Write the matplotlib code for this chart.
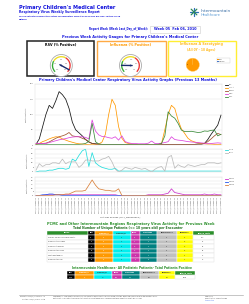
import numpy as np
import matplotlib
matplotlib.use("Agg")
import matplotlib.pyplot as plt
from matplotlib.patches import Rectangle, Wedge, Circle

# ---------------- data ----------------
week_labels = [
    "2009_01 Week 02", "2009_01 Week 03", "2009_01 Week 04", "2009_01 Week 05",
    "2009_02 Week 06", "2009_02 Week 07", "2009_02 Week 08", "2009_02 Week 09",
    "2009_03 Week 10", "2009_03 Week 11", "2009_03 Week 12", "2009_03 Week 13",
    "2009_04 Week 14", "2009_04 Week 15", "2009_04 Week 16", "2009_04 Week 17",
    "2009_05 Week 18", "2009_05 Week 19", "2009_05 Week 20", "2009_05 Week 21", "2009_05 Week 22",
    "2009_06 Week 23", "2009_06 Week 24", "2009_06 Week 25", "2009_06 Week 26",
    "2009_07 Week 27", "2009_07 Week 28", "2009_07 Week 29", "2009_07 Week 30",
    "2009_08 Week 31", "2009_08 Week 32", "2009_08 Week 33", "2009_08 Week 34", "2009_08 Week 35",
    "2009_09 Week 36", "2009_09 Week 37", "2009_09 Week 38", "2009_09 Week 39",
    "2009_10 Week 40", "2009_10 Week 41", "2009_10 Week 42", "2009_10 Week 43", "2009_10 Week 44",
    "2009_11 Week 45", "2009_11 Week 46", "2009_11 Week 47", "2009_11 Week 48",
    "2009_12 Week 49", "2009_12 Week 50", "2009_12 Week 51", "2009_12 Week 52",
    "2010_01 Week 00", "2010_01 Week 01", "2010_01 Week 02", "2010_01 Week 03", "2010_01 Week 04",
    "2010_02 Week 05",
]

rsv = [2, 20, 60, 100, 130, 120, 145, 175, 165, 150, 120, 75, 50, 40, 30, 18, 10, 5,
       4, 3, 2, 2, 1, 1, 2, 1, 1, 1, 1, 1, 1, 1, 1, 1, 1, 1, 1, 1, 1, 1, 2, 2, 2, 2,
       2, 2, 2, 2, 2, 3, 3, 5, 18, 35, 50, 65, 98]
infl_a = [1, 5, 11, 15, 20, 24, 27, 26, 20, 16, 12, 9, 6, 4, 3, 2, 1, 1, 1, 3, 10,
          35, 100, 150, 130, 60, 22, 8, 5, 3, 2, 1, 1, 1, 1, 1, 1, 2, 5, 50, 100, 130,
          120, 82, 53, 38, 22, 14, 10, 7, 5, 4, 3, 3, 2, 2, 2]
adeno = [5, 5, 5, 6, 10, 16, 22, 27, 30, 34, 41, 30, 28, 27, 22, 18, 10, 5, 3, 2, 2,
         2, 2, 2, 2, 2, 2, 2, 1, 1, 1, 1, 1, 1, 1, 1, 1, 1, 1, 1, 1, 2, 2, 2, 2, 2, 2,
         2, 2, 3, 3, 5, 11, 20, 30, 38, 34]
hmpv = [5, 5, 5, 5, 8, 11, 14, 17, 19, 21, 24, 26, 27, 27, 27, 25, 20, 82, 46, 33,
        28, 27, 24, 22, 27, 16, 30, 11, 7, 5, 5, 4, 4, 4, 6, 13, 5, 5, 6, 8, 11, 27,
        18, 16, 15, 13, 11, 10, 9, 8, 7, 6, 5, 5, 6, 7, 6]
h1n1 = [1, 1, 1, 1, 2, 2, 2, 2, 2, 2, 2, 2, 2, 2, 3, 5, 12, 71, 11, 3, 2, 2, 2, 2, 2,
        2, 2, 2, 1, 1, 1, 1, 1, 1, 1, 1, 1, 2, 5, 30, 109, 95, 88, 71, 49, 44, 44, 45,
        43, 41, 42, 46, 45, 48, 49, 30, 35]

infl_b = [0, 1, 1, 1, 2, 2, 3, 4, 4, 3, 4, 14, 12, 18, 23, 25, 6, 21, 10, 7, 5, 4,
          3, 3, 4, 1, 1, 1, 1, 1, 1, 1, 1, 1, 1, 1, 1, 1, 1, 1, 1, 1, 1, 1, 1, 1, 1,
          1, 1, 1, 1, 1, 1, 1, 1, 1, 1]
rhino = [2, 9, 6, 8, 8, 10, 10, 9, 14, 9, 11, 11, 11, 5, 8, 13, 13, 12, 12, 12, 14,
         15, 17, 11, 3, 0, 2, 5, 4, 3, 5, 4, 3, 4, 2, 0, 3, 5, 6, 1, 16, 18, 4, 8, 6,
         5, 8, 7, 6, 7, 8, 8, 10, 10, 10, 9, 10]

para1 = [0, 0, 0, 1, 1, 1, 1, 1, 1, 1, 1, 1, 1, 1, 1, 1, 1, 1, 1, 1, 1, 1, 1, 1, 1,
         0, 0, 0, 0, 0, 0, 0, 0, 0, 1, 1, 1, 1, 1, 2, 3, 9, 4, 3, 2, 1, 1, 1, 1, 1,
         1, 2, 1, 1, 2, 1, 1]
para2 = [0, 0, 1, 1, 2, 2, 1, 1, 0, 0, 0, 0, 0, 0, 0, 0, 0, 0, 0, 0, 0, 0, 0, 0, 0,
         0, 0, 0, 0, 0, 0, 0, 0, 0, 0, 0, 0, 0, 0, 0, 0, 0, 0, 0, 0, 0, 0, 0, 0, 0,
         0, 0, 0, 0, 0, 0, 0]
para3 = [0, 0, 0, 0, 0, 0, 1, 1, 1, 2, 2, 4, 6, 6, 6, 7, 14, 21, 14, 9, 8, 7, 7, 6,
         6, 9, 0, 0, 0, 0, 0, 0, 0, 0, 0, 0, 0, 0, 0, 0, 0, 0, 0, 0, 0, 0, 0, 0, 0, 0,
         0, 0, 0, 0, 0, 0, 0]

gauge_rsv_pct = 47.0
gauge_rsv_max = 50.0
gauge_flu_pct = 1.7
gauge_flu_max = 10.0
serotype_labels = ["H1N1", "Seasonal"]
serotype_counts = [1, 0]

table_cols = ["Region", "RSV", "Influenza_A", "Influenza_B", "hMPV", "Adenovirus",
              "Parainfluenza", "Rhinovirus", "Total_W_Tests"]
regions = ["Primary Children's Medical Center", "Urban Central Region", "Urban North Region",
           "Urban South Region", "Southwest Region", "Urban South Rural"]
t_rsv = [97, 31, 35, 38, 17, 5]
t_flua = [0, 0, 0, 0, 0, 0]
t_flub = [0, 0, 0, 0, 0, 0]
t_hmpv = [25, 11, 20, 10, 4, 4]
t_adeno = [3, 1, 1, 1, 1, 0]
t_para = [3, 0, 0, 0, 0, 0]
t_rhino = [25, 13, 19, 13, 4, 1]
t_total = [137, 57, 93, 83, 42, 16]

all_cols = ["RSV", "Influenza_A", "Influenza_B", "hMPV", "Adenovirus", "Parainfluenza",
            "Rhinovirus", "Total_W_Tests"]
all_vals = [212, 2, 0, 33, 11, 18, 62, 563]

# ---------------- figure ----------------
W, H = 249, 304
fig = plt.figure(figsize=(W / 100, H / 100), dpi=100)
cv = fig.add_axes([0, 0, 1, 1])
cv.set_xlim(0, W)
cv.set_ylim(H, 0)
cv.axis("off")

BLUE = "#1414dc"
GREEN = "#2b8f2b"
ORANGE = "#ff9900"
CYAN = "#00eeee"
MAG = "#cc33aa"
TEAL = "#008080"
GRAY = "#c0c0c0"
YEL = "#ffff00"


def T(x, y, s, size, color="black", weight="normal", ha="left", va="center", **kw):
    cv.text(x, y, s, fontsize=size, color=color, fontweight=weight, ha=ha, va=va, **kw)


# header
T(19, 7, "Primary Children's Medical Center", 3.6, BLUE, "bold")
T(19, 12.3, "Respiratory Virus Weekly Surveillance Report", 2.25, BLUE, "bold")
T(19, 16.6, "Unique Patients by Encounter Positive for Respiratory Virus at PCMC by RSV EIA, DFA, Culture or PCR",
  1.3, BLUE, "bold")
T(19, 19.8, "Methods", 1.3, BLUE, "bold")

# logo
for ang in range(0, 360, 45):
    a = np.deg2rad(ang)
    cv.plot([194, 194 + 4 * np.cos(a)], [12, 12 - 4 * np.sin(a)],
            color="#2e8b57" if ang % 90 else "#2a6fb5", lw=0.9, solid_capstyle="round")
T(201, 10.5, "Intermountain", 3.1, "#3a6ea5")
T(201, 15.0, "Healthcare", 2.6, "#5b9bd5")

# report week
T(148, 29.3, "Report Week (Week Last_Day_of_Week):", 1.9, BLUE, "bold", ha="right")
cv.add_patch(Rectangle((150, 25.5), 50, 7.5, fc="white", ec="#cccccc", lw=0.4))
T(175, 29.3, "Week 05  Feb 06, 2010", 2.4, BLUE, "bold", ha="center")
T(130.5, 36.7, "Previous Week Activity Gauges for Primary Children's Medical Center", 2.55, BLUE, "bold",
  ha="center")

# gauge boxes
cv.add_patch(Rectangle((27, 41), 67, 35, fc="white", ec="#222222", lw=1.1))
cv.add_patch(Rectangle((97, 41), 68.5, 35, fc="white", ec="#ffaa44", lw=1.0))
cv.add_patch(Rectangle((167.5, 41), 68, 35, fc="white", ec="#ffee33", lw=1.0))
T(60.5, 45, "RSV (% Positive)", 2.4, "black", "bold", ha="center")
T(131, 45, "Influenza (% Positive)", 2.4, ORANGE, "bold", ha="center")
T(201.5, 44.5, "Influenza A Serotyping", 2.4, "#ffbb22", "bold", ha="center")
T(201.5, 49.7, "(All 0Y - 18 Ages)", 2.1, "#ffbb22", "bold", ha="center")


def gauge(cx, cy, r, val, vmax):
    cv.add_patch(Circle((cx, cy), r, fc="white", ec="#aaaaaa", lw=0.6))
    bands = [(150, 225, "#33aa33"), (60, 150, "#eedd22"), (-45, 60, "#ee3333")]
    for a1, a2, c in bands:
        cv.add_patch(Wedge((cx, cy), r * 0.86, -a2, -a1, width=r * 0.12, fc=c, ec="none"))
    for i in range(5):
        frac = i / 4
        a = np.deg2rad(225 - 270 * frac)
        lab = "%d%%" % round(vmax * frac)
        cv.text(cx + 0.55 * r * np.cos(a), cy - 0.55 * r * np.sin(a), lab, fontsize=0.9,
                color="#555555", ha="center", va="center")
    a = np.deg2rad(225 - 270 * min(val / vmax, 1))
    cv.plot([cx - 0.15 * r * np.cos(a), cx + 0.82 * r * np.cos(a)],
            [cy + 0.15 * r * np.sin(a), cy - 0.82 * r * np.sin(a)], color="#1a2a6c", lw=1.0,
            solid_capstyle="round")
    cv.add_patch(Circle((cx, cy), r * 0.08, fc="#1a2a6c", ec="none"))


gauge(61.3, 65.5, 11, gauge_rsv_pct, gauge_rsv_max)
gauge(130.5, 65.5, 11, gauge_flu_pct, gauge_flu_max)

# pie in pixel coordinates
pie_ax = fig.add_axes([184.5 / W, 1 - 73 / H, 16.5 / W, 16.5 / H])
pie_ax.pie(serotype_counts, colors=[ORANGE, "#4477cc"], startangle=90,
           wedgeprops=dict(ec="#ffcc66", lw=0.3))
pie_ax.set_aspect("equal")
pie_ax.text(-0.75, 0, str(serotype_counts[0]), fontsize=1.3, ha="center", va="center")
cv.add_patch(Rectangle((216.5, 58), 13.5, 5, fc="white", ec="#cccccc", lw=0.3))
cv.add_patch(Rectangle((217.3, 59.2), 1.3, 1, fc=ORANGE, ec="none"))
cv.add_patch(Rectangle((217.3, 61.2), 1.3, 1, fc="#4477cc", ec="none"))
T(219.3, 59.7, serotype_labels[0], 1.0, "#555555")
T(219.3, 61.7, serotype_labels[1], 1.0, "#555555")

# ---------------- line charts ----------------
T(128, 80.3, "Primary Children's Medical Center Respiratory Virus Activity Graphs (Previous 13 Months)",
  2.5, BLUE, "bold", ha="center")

x = np.arange(len(week_labels))


def chart(y0, y1, series, colors, names, ylim, ticks, legend_y, show_x=False):
    ax = fig.add_axes([35 / W, 1 - y1 / H, (222 - 35) / W, (y1 - y0) / H])
    for s, c, n in zip(series, colors, names):
        ax.plot(x, s, color=c, lw=0.55, label=n)
    ax.set_xlim(-0.3, len(x) - 0.7)
    ax.set_ylim(*ylim)
    ax.set_yticks(ticks)
    ax.tick_params(axis="y", labelsize=1.4, length=0, pad=1, labelcolor="#444444")
    ax.grid(axis="y", color="#e2e2e2", lw=0.3)
    ax.set_axisbelow(True)
    for sp in ax.spines.values():
        sp.set_color("#dddddd")
        sp.set_linewidth(0.3)
    ax.set_xticks(x)
    if show_x:
        ax.set_xticklabels(week_labels, rotation=90, fontsize=1.25, color="#555555")
        ax.tick_params(axis="x", length=0, pad=1)
    else:
        ax.set_xticklabels([])
        ax.tick_params(axis="x", length=0)
    ax.set_ylabel("Positive Patients", fontsize=1.3, color="#444444", labelpad=2)
    for i, (c, n) in enumerate(zip(colors, names)):
        yy = legend_y + i * 3.0
        cv.plot([225, 228], [yy, yy], color=c, lw=0.6)
        T(229, yy, n, 1.2, "#444444")
    return ax


chart(84, 145, [rsv, infl_a, adeno, hmpv, h1n1],
      ["#111111", ORANGE, "#a0522d", "#dd44dd", "#3a8a3a"],
      ["RSV", "INFL A", "ADENO", "hMPV", "H1N1"], (0, 200), [0, 50, 100, 150, 200], 84.5)
chart(149, 172, [infl_b, rhino], ["#22dddd", "#bbbbbb"], ["Flu B", "Rhino"],
      (0, 25), [0, 5, 10, 15, 20, 25], 149.5)
chart(177, 195.5, [para1, para2, para3], ["#cc33cc", "#2255ee", "#d9803a"],
      ["Para 1", "Para 2", "Para 3"], (0, 25), [0, 5, 10, 15, 20, 25], 178.5, show_x=True)

T(120, 217.5, "Last Day of Week (YYYY_MM Week##)", 1.5, "#333333", ha="center")

# ---------------- tables ----------------
T(130.5, 223.5, "PCMC and Other Intermountain Regions Respiratory Virus Activity for Previous Week",
  2.55, GREEN, "bold", ha="center")
T(128, 227.9, "Total Number of Unique Patients (<= 18 years old) per Encounter", 2.2,
  "#1d6e1d", "bold", ha="center")

col_fc = ["white", "#000000", ORANGE, CYAN, MAG, TEAL, GRAY, YEL, "white"]
col_tc = ["#333333", "white", "white", "#333333", "white", "white", "#333333", "#333333", "#333333"]
hdr_fc = [GREEN, "#000000", ORANGE, CYAN, MAG, TEAL, GRAY, YEL, GREEN]
hdr_tc = ["white", "white", "white", "#333333", "white", "white", "#333333", "#333333", "white"]

edges1 = [47, 88, 95, 112.5, 130.5, 139.5, 157, 176.5, 192.5, 213.5]
rows = list(zip(regions, t_rsv, t_flua, t_flub, t_hmpv, t_adeno, t_para, t_rhino, t_total))
rh = 4.5
ytop = 230.7
for j, name in enumerate(table_cols):
    cv.add_patch(Rectangle((edges1[j], ytop), edges1[j + 1] - edges1[j], 4.1,
                           fc=hdr_fc[j], ec="white", lw=0.3))
    T((edges1[j] + edges1[j + 1]) / 2, ytop + 2.05, name, 1.2, hdr_tc[j], "bold", ha="center")
for i, row in enumerate(rows):
    yy = ytop + 4.3 + i * rh
    for j, v in enumerate(row):
        cv.add_patch(Rectangle((edges1[j], yy), edges1[j + 1] - edges1[j], rh,
                               fc=col_fc[j], ec="#dddddd" if j in (0, 8) else "white", lw=0.3))
        if j == 0:
            T(edges1[j] + 1, yy + rh / 2, v, 1.2, "#333333")
        else:
            T((edges1[j] + edges1[j + 1]) / 2, yy + rh / 2, str(v), 1.3, col_tc[j], ha="center")

T(131.5, 267.8, "Intermountain Healthcare- All Pediatric Patients- Total Patients Positive",
  2.2, GREEN, "bold", ha="center")
edges2 = [67, 75, 93.5, 111.5, 121.5, 139.5, 158.5, 175, 195]
for j, name in enumerate(all_cols):
    k = j + 1
    x0, x1 = edges2[j], edges2[j + 1]
    cv.add_patch(Rectangle((x0, 270.5), x1 - x0, 4.2, fc=hdr_fc[k], ec="white", lw=0.3))
    T((x0 + x1) / 2, 272.6, name, 1.2, hdr_tc[k], "bold", ha="center")
    cv.add_patch(Rectangle((x0, 274.7), x1 - x0, 4.6, fc=col_fc[k],
                           ec="#dddddd" if k == 8 else "white", lw=0.3))
    T((x0 + x1) / 2, 277.0, str(all_vals[j]), 1.5, col_tc[k], ha="center")

# ---------------- footer ----------------
cv.plot([19, 243], [294.5, 294.5], color="#999999", lw=0.4)
T(20, 296.6, "Run Date: 2010/02/10 10:15:22 AM", 0.95, "#444444")
T(22, 298.8, "Created: 2010/02/10 8:07:49 AM", 0.95, "#444444")
T(53, 296.4, "CONFIDENTIAL: This report is prepared for use in quality improvement and peer review activities. Please handle according to Intermountain policy.",
  0.8, "#444444")
T(53, 298.2, "Data reflect unique patients by encounter; counts for recent weeks may change as additional laboratory results are finalized.",
  0.8, "#444444")
T(205, 296.4, "Page 1 of 1", 0.95, "#444444")
T(205, 298.4, "Report Author: Chad Fitzgerald", 0.95, "#444444")
T(205, 300.4, "Intermountain", 0.95, "#2255ee")

fig.savefig("out.png", dpi=100)
